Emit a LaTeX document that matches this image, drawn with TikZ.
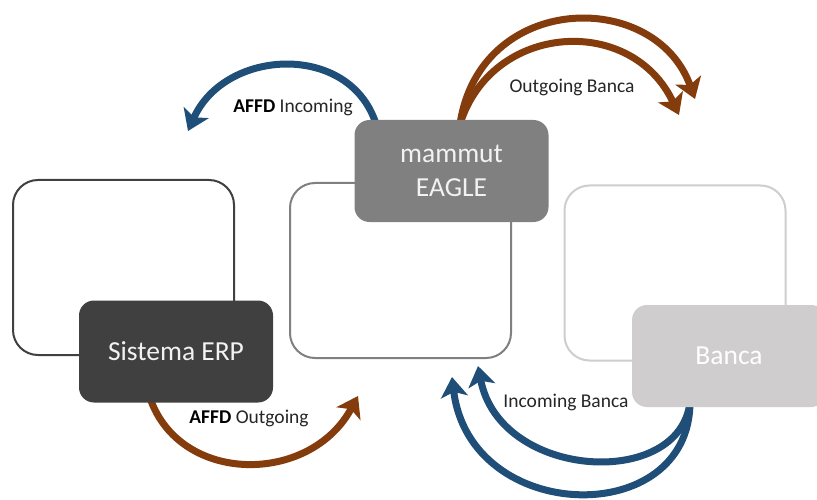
\documentclass[tikz,border=0pt]{standalone}
\usepackage{fontspec}
\setmainfont{Carlito}
\usetikzlibrary{arrows.meta}
\definecolor{cblue}{HTML}{1F4E79}
\definecolor{cbrown}{HTML}{843C0C}
\definecolor{cdark}{HTML}{404040}
\definecolor{cmid}{HTML}{808080}
\definecolor{clight}{HTML}{CFCDCD}
\definecolor{ctext}{HTML}{262626}
\tikzset{
  outline/.style={draw, line width=2pt, rounded corners=25pt, minimum width=221pt, minimum height=175pt, inner sep=0pt},
  fillbox/.style={rounded corners=15pt, minimum width=194pt, minimum height=102pt, inner sep=0pt, align=center, font=\fontsize{27.5}{34}\selectfont},
  flow/.style={line width=7pt, -{Stealth[length=20pt,width=27pt,inset=5pt]}},
  lbl/.style={text=ctext, font=\fontsize{19.5}{21}\selectfont, inner sep=0pt}
}
\begin{document}
\begin{tikzpicture}[x=1pt,y=-1pt]
\useasboundingbox[fill=white] (0,0) rectangle (817,500);
% outline boxes
\node[outline, draw=cdark] (oleft) at (123.5,267.5) {};
\node[outline, draw=cmid] (omid) at (400.5,270.5) {};
\node[outline, draw=clight] (oright) at (675,273) {};
% coordinates for arrows
\coordinate (incS) at (376,124);
\coordinate (incE) at (188,131);
\coordinate (outS) at (460,124);
\coordinate (outE1) at (695,99);
\coordinate (outE2) at (679,115);
\coordinate (aoS) at (150,398);
\coordinate (aoE) at (358,396);
\coordinate (ibS) at (690,402);
\coordinate (ibE1) at (478,366);
\coordinate (ibE2) at (452,377);
% arrows
\draw[flow, cblue] (incS) .. controls (350,42) and (225,48) .. (incE);
\draw[flow, cbrown] (outS) .. controls (480,-8) and (655,-12) .. (outE1);
\draw[flow, cbrown] (outS) .. controls (492,22) and (632,14) .. (outE2);
\draw[flow, cbrown] (aoS) .. controls (180,485) and (310,485) .. (aoE);
\draw[flow, cblue] (ibS) .. controls (680,490) and (500,480) .. (ibE1);
\draw[flow, cblue] (ibS) .. controls (690,530) and (470,525) .. (ibE2);
% filled boxes
\node[fillbox, fill=cdark, text=white!95!black] (erp) at (176,351.5) {Sistema ERP};
\node[fillbox, fill=cmid, text=white!95!black] (eagle) at (451.5,171) {mammut\\EAGLE};
\node[fillbox, fill=clight, text=white] (banca) at (729,356) {Banca};
% labels
\node[lbl] (l1) at (293,107) {\textcolor{black}{\textbf{AFFD}} Incoming};
\node[lbl] (l2) at (572,87) {Outgoing Banca};
\node[lbl] (l3) at (249,418) {\textcolor{black}{\textbf{AFFD}} Outgoing};
\node[lbl] (l4) at (566,402) {Incoming Banca};
\end{tikzpicture}
\end{document}
